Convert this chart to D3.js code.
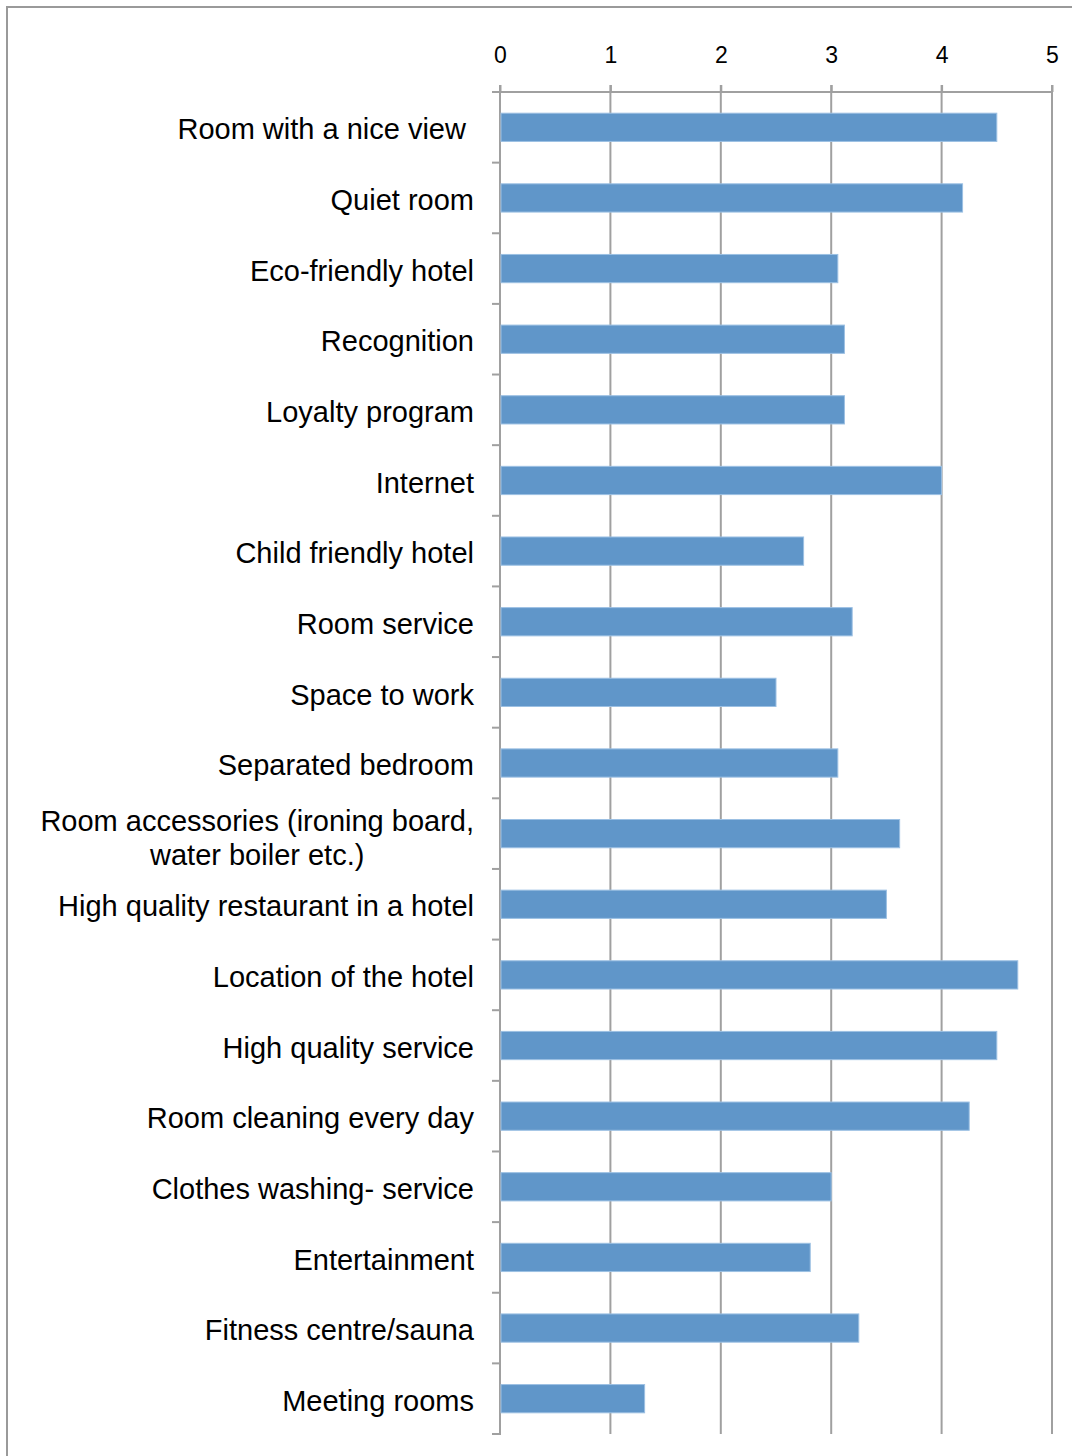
<!DOCTYPE html>
<html>
<head>
<meta charset="utf-8">
<script src="https://cdn.jsdelivr.net/npm/d3@7"></script>
<style>
  body { margin: 0; background: #fff; }
  text { font-family: "Liberation Sans", Arial, sans-serif; fill: #000; }
</style>
</head>
<body>
<svg id="chart" width="1072" height="1456"></svg>
<script>
// Categories (top to bottom) and mean scores
const categories = [
  "Room with a nice view ",
  "Quiet room",
  "Eco-friendly hotel",
  "Recognition",
  "Loyalty program",
  "Internet",
  "Child friendly hotel",
  "Room service",
  "Space to work",
  "Separated bedroom",
  "Room accessories (ironing board,\nwater boiler etc.)",
  "High quality restaurant in a hotel",
  "Location of the hotel",
  "High quality service",
  "Room cleaning every day",
  "Clothes washing- service",
  "Entertainment",
  "Fitness centre/sauna",
  "Meeting rooms"
];
const scores = [4.5, 4.19, 3.06, 3.12, 3.12, 4.0, 2.75, 3.19, 2.5, 3.06, 3.62, 3.5, 4.69, 4.5, 4.25, 3.0, 2.81, 3.25, 1.31];
const xTicks = [0, 1, 2, 3, 4, 5];

const svg = d3.select("#chart");

// outer chart frame (cut off on right/bottom like the source)
svg.append("rect")
  .attr("x", 7).attr("y", 7)
  .attr("width", 1100).attr("height", 1500)
  .attr("fill", "none")
  .attr("stroke", "#9a9a9a")
  .attr("stroke-width", 2);

const x = d3.scaleLinear().domain([0, 5]).range([500, 1052]);
const y = d3.scaleBand()
  .domain(categories)
  .range([92, 1434])
  .paddingInner(0.6)
  .paddingOuter(0.3);

const gridColor = "#a0a0a0";

// vertical gridlines
svg.append("g")
  .selectAll("line")
  .data(xTicks)
  .join("line")
  .attr("x1", d => x(d)).attr("x2", d => x(d))
  .attr("y1", 85).attr("y2", 1434)
  .attr("stroke", gridColor)
  .attr("stroke-width", 2);

// top axis
const xAxis = svg.append("g")
  .attr("transform", "translate(0,92)")
  .call(d3.axisTop(x).tickValues(xTicks).tickSize(7).tickPadding(22).tickFormat(d3.format("d")));
xAxis.select(".domain").remove();
xAxis.selectAll(".tick line").attr("stroke", gridColor).attr("stroke-width", 2);
xAxis.selectAll(".tick text")
  .style("font-size", "23px")
  .style("font-family", "'Liberation Sans', Arial, sans-serif")
  .attr("fill", "#000");
svg.append("line")
  .attr("x1", 492).attr("x2", 1053)
  .attr("y1", 92).attr("y2", 92)
  .attr("stroke", gridColor).attr("stroke-width", 2);

// left axis line with category ticks at band boundaries
svg.append("line")
  .attr("x1", 500).attr("x2", 500)
  .attr("y1", 85).attr("y2", 1435)
  .attr("stroke", gridColor).attr("stroke-width", 2);
const step = y.step();
svg.append("g")
  .selectAll("line")
  .data(d3.range(categories.length + 1))
  .join("line")
  .attr("x1", 492).attr("x2", 500)
  .attr("y1", i => 92 + i * step).attr("y2", i => 92 + i * step)
  .attr("stroke", gridColor).attr("stroke-width", 2);

// bars
svg.append("g")
  .selectAll("rect")
  .data(categories)
  .join("rect")
  .attr("x", x(0) + 1)
  .attr("y", d => y(d))
  .attr("width", (d, i) => x(scores[i]) - x(0) - 1)
  .attr("height", y.bandwidth())
  .attr("fill", "#6096c9")
  .attr("stroke", "#9cc0e3")
  .attr("stroke-width", 1);

// category labels
const labels = svg.append("g")
  .selectAll("text")
  .data(categories)
  .join("text")
  .style("font-size", "29px")
  .style("white-space", "pre")
  .attr("y", d => y(d) + y.bandwidth() / 2 + 2);

labels.each(function(d) {
  const t = d3.select(this);
  const lines = d.split("\n");
  if (lines.length === 1) {
    t.attr("x", 474).attr("text-anchor", "end").attr("dy", "0.35em").text(d);
  } else {
    t.attr("text-anchor", "middle");
    const spans = lines.map((l, k) => t.append("tspan")
      .attr("dy", k === 0 ? "-0.17em" : "1.17em")
      .text(l));
    const w = d3.max(spans, s => s.node().getComputedTextLength());
    spans.forEach(s => s.attr("x", 474 - w / 2));
  }
});
</script>
</body>
</html>
